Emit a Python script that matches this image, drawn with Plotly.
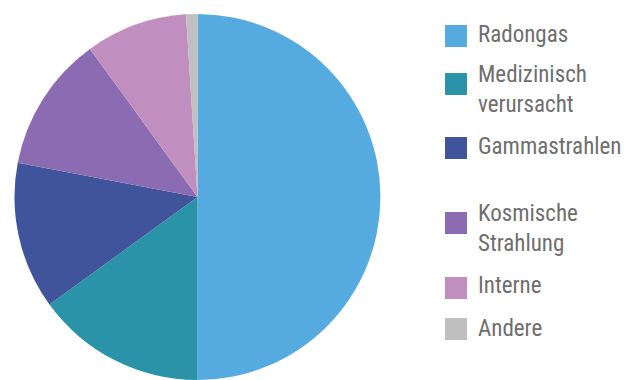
import plotly.graph_objects as go

categories = ["Radongas", "Medizinisch verursacht", "Gammastrahlen", "Kosmische Strahlung", "Interne", "Andere"]
values = [50, 15, 13, 12, 9, 1]
colors = ["#55ABE0", "#2B93A7", "#40549C", "#8B6BB1", "#C18EC0", "#C0C0C0"]
legend_labels = ["Radongas", "Medizinisch<br>verursacht", "Gammastrahlen",
                 "Kosmische<br>Strahlung", "Interne", "Andere"]

W, H = 624, 380
# legend layout (pixel positions)
square_tops = [25, 73, 137, 212, 277, 318]
square_size = 22
label_centers = [34.5, 89.5, 146.5, 228, 285, 328.5]
sq_x0, text_x = 445, 476

fig = go.Figure()
fig.add_trace(go.Pie(
    labels=categories, values=values, sort=False, direction="clockwise", rotation=0,
    marker=dict(colors=colors, line=dict(width=0)),
    textinfo="none", hoverinfo="label+percent", showlegend=False,
    domain=dict(x=[14.5 / W, 380.5 / W], y=[0, 1 - 14 / H]),
))

font = dict(family="Roboto Condensed, sans-serif", size=23, color="#6E6E6E")
for i, lab in enumerate(legend_labels):
    t = square_tops[i]
    fig.add_shape(type="rect", xref="paper", yref="paper",
                  x0=sq_x0 / W, x1=(sq_x0 + square_size) / W,
                  y0=1 - (t + square_size) / H, y1=1 - t / H,
                  fillcolor=colors[i], line=dict(width=0))
    fig.add_annotation(text=lab, xref="paper", yref="paper",
                       x=text_x / W, y=1 - label_centers[i] / H, xanchor="left", yanchor="middle",
                       align="left", showarrow=False, font=font)

fig.update_layout(width=W, height=H, margin=dict(l=0, r=0, t=0, b=0),
                  paper_bgcolor="white", plot_bgcolor="white")
fig.write_html("out.html")
